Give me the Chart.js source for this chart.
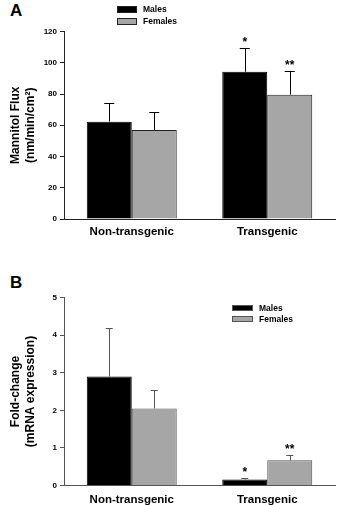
<!DOCTYPE html>
<html>
<head>
<meta charset="utf-8">
<script src="https://cdn.jsdelivr.net/npm/chart.js@4"></script>
<style>
  body { margin: 0; background: #fff; }
  .panel { position: absolute; left: 0; }
  .tag { position: absolute; left: 10px; font: bold 17px "Liberation Sans", Arial, sans-serif; color: #000; }
</style>
</head>
<body>
<div class="tag" style="top:1px">A</div>
<div class="panel" style="top:0px"><canvas id="fluxChart" width="337" height="253"></canvas></div>
<div class="tag" style="top:273px">B</div>
<div class="panel" style="top:253px"><canvas id="mrnaChart" width="337" height="252"></canvas></div>
<script>
const categories = ["Non-transgenic", "Transgenic"];
const seriesNames = ["Males", "Females"];

// panel A: mannitol flux
const fluxMales = [62.3, 94.2];
const fluxFemales = [57, 79.6];
const fluxMalesErr = [12.2, 15.5];
const fluxFemalesErr = [11.8, 15.2];
const fluxMalesSig = ["", "*"];
const fluxFemalesSig = ["", "**"];
const fluxTicks = [0, 20, 40, 60, 80, 100, 120];

// panel B: mRNA fold-change
const mrnaMales = [2.9, 0.16];
const mrnaFemales = [2.05, 0.67];
const mrnaMalesErr = [1.3, 0.03];
const mrnaFemalesErr = [0.5, 0.13];
const mrnaMalesSig = ["", "*"];
const mrnaFemalesSig = ["", "**"];
const mrnaTicks = [0, 1, 2, 3, 4, 5];

const FONT = '"Liberation Sans", Arial, sans-serif';
Chart.defaults.font.family = FONT;
Chart.defaults.color = "#000";

// one-sided error bars + significance stars
const errorBars = {
  id: "errorBars",
  afterDatasetsDraw(chart, args, opts) {
    const ctx = chart.ctx;
    const yScale = chart.scales.y;
    chart.data.datasets.forEach((ds, di) => {
      const meta = chart.getDatasetMeta(di);
      meta.data.forEach((bar, i) => {
        const top = yScale.getPixelForValue(ds.data[i] + ds.errors[i]);
        ctx.save();
        ctx.strokeStyle = opts.color;
        ctx.lineWidth = 1;
        ctx.beginPath();
        ctx.moveTo(Math.round(bar.x) + 0.5, bar.y);
        ctx.lineTo(Math.round(bar.x) + 0.5, Math.round(top) + 0.5);
        ctx.moveTo(bar.x - opts.cap / 2, Math.round(top) + 0.5);
        ctx.lineTo(bar.x + opts.cap / 2, Math.round(top) + 0.5);
        ctx.stroke();
        if (ds.sig[i]) {
          ctx.fillStyle = "#000";
          ctx.font = "bold 12px " + FONT;
          ctx.textAlign = "center";
          ctx.textBaseline = "alphabetic";
          ctx.fillText(ds.sig[i], bar.x, top - 2);
        }
        ctx.restore();
      });
    });
  }
};

// small box legend placed relative to the plot area
const boxLegend = {
  id: "boxLegend",
  afterDraw(chart, args, opts) {
    const ctx = chart.ctx;
    const x0 = chart.chartArea.left + opts.dx;
    chart.data.datasets.forEach((ds, i) => {
      const y = opts.y + i * opts.gap;
      ctx.save();
      ctx.fillStyle = ds.backgroundColor;
      ctx.strokeStyle = opts.edge;
      ctx.lineWidth = 1;
      ctx.fillRect(x0, y, opts.w, opts.h);
      ctx.strokeRect(x0 + 0.5, y + 0.5, opts.w - 1, opts.h - 1);
      ctx.fillStyle = "#000";
      ctx.font = "bold 8.5px " + FONT;
      ctx.textBaseline = "middle";
      ctx.textAlign = "left";
      ctx.fillText(ds.label, x0 + opts.w + 6, y + opts.h / 2 + 0.5);
      ctx.restore();
    });
  }
};

function makeChart(id, cfg) {
  return new Chart(document.getElementById(id), {
    type: "bar",
    data: {
      labels: categories,
      datasets: [
        { label: seriesNames[0], data: cfg.males, errors: cfg.malesErr, sig: cfg.malesSig,
          backgroundColor: "#000000", borderColor: "#000", borderWidth: 1 },
        { label: seriesNames[1], data: cfg.females, errors: cfg.femalesErr, sig: cfg.femalesSig,
          backgroundColor: "#a6a6a6", borderColor: cfg.edge, borderWidth: 1 }
      ]
    },
    options: {
      responsive: false,
      animation: false,
      devicePixelRatio: 1,
      categoryPercentage: 0.664,
      barPercentage: 1,
      layout: { padding: { top: cfg.top, right: 2, bottom: 0, left: 0 } },
      plugins: {
        legend: { display: false },
        tooltip: { enabled: false },
        errorBars: { color: cfg.errColor, cap: cfg.cap },
        boxLegend: Object.assign({ edge: cfg.edge }, cfg.legend)
      },
      scales: {
        x: {
          grid: { display: false, drawTicks: false },
          border: { color: cfg.edge, width: 1 },
          ticks: { font: { size: 11.5, weight: "bold" }, color: "#000", padding: cfg.xPad },
          afterFit: s => { s.height = cfg.xHeight; }
        },
        y: {
          min: cfg.ticks[0],
          max: cfg.ticks[cfg.ticks.length - 1],
          afterBuildTicks: s => { s.ticks = cfg.ticks.map(v => ({ value: v })); },
          grid: { drawOnChartArea: false, drawTicks: true, tickLength: 4, color: cfg.edge },
          border: { color: cfg.edge, width: 1 },
          ticks: { font: { size: 8, weight: "bold" }, color: "#000", padding: 3 },
          title: {
            display: true,
            text: cfg.title,
            font: { size: 12, weight: "bold", lineHeight: 1.25 },
            color: "#000",
            padding: { top: 8, bottom: 0 }
          },
          afterFit: s => { s.width = 64; }
        }
      }
    },
    plugins: [errorBars, boxLegend]
  });
}

makeChart("fluxChart", {
  males: fluxMales, females: fluxFemales,
  malesErr: fluxMalesErr, femalesErr: fluxFemalesErr,
  malesSig: fluxMalesSig, femalesSig: fluxFemalesSig,
  ticks: fluxTicks,
  title: ["Mannitol Flux", "(nm/min/cm²)"],
  top: 31.5, xHeight: 34, xPad: 6,
  errColor: "#000", cap: 10, edge: "#222",
  legend: { dx: 53, y: 6, gap: 12, w: 20, h: 7 }
});

makeChart("mrnaChart", {
  males: mrnaMales, females: mrnaFemales,
  malesErr: mrnaMalesErr, femalesErr: mrnaFemalesErr,
  malesSig: mrnaMalesSig, femalesSig: mrnaFemalesSig,
  ticks: mrnaTicks,
  title: ["Fold-change", "(mRNA expression)"],
  top: 44.5, xHeight: 19.5, xPad: 7,
  errColor: "#555", cap: 7, edge: "#555",
  legend: { dx: 168, y: 52, gap: 11, w: 21, h: 6 }
});
</script>
</body>
</html>
